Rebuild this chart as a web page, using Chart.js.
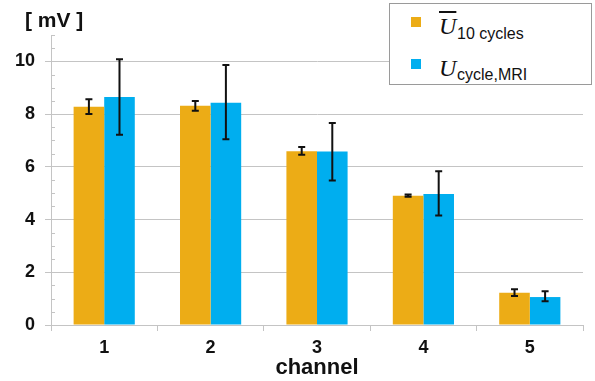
<!DOCTYPE html>
<html>
<head>
<meta charset="utf-8">
<script src="https://cdn.jsdelivr.net/npm/chart.js@4"></script>
<style>
  html, body { margin: 0; padding: 0; background: #fff; }
  #wrap { position: relative; width: 595px; height: 381px; }
  canvas { position: absolute; left: 0; top: 0; }
  .unit { position: absolute; left: 25px; top: 8px; font: bold 21px "Liberation Sans", Arial, sans-serif; color: #111; white-space: pre; }
  #legend { position: absolute; left: 389px; top: 3px; width: 201px; height: 80px; border: 1px solid #9a9a9a; background: #fff; }
  .sw { position: absolute; width: 10px; height: 10px; }
  .u { position: absolute; font: italic 24px "Liberation Serif", "Times New Roman", serif; color: #111; line-height: 1; }
  .sub { position: absolute; font: 16px "Liberation Sans", Arial, sans-serif; color: #111; line-height: 1; white-space: nowrap; }
</style>
</head>
<body>
<div id="wrap">
  <canvas id="c" width="595" height="381"></canvas>
  <div class="unit">[ mV ]</div>
  <div id="legend"></div>
</div>
<script>
const categories = ['1', '2', '3', '4', '5'];
const meanValues = [8.28, 8.32, 6.59, 4.90, 1.22];
const meanLow    = [8.00, 8.13, 6.46, 4.86, 1.10];
const meanHigh   = [8.56, 8.50, 6.75, 4.95, 1.36];
const mriValues  = [8.65, 8.43, 6.58, 4.97, 1.06];
const mriLow     = [7.22, 7.05, 5.48, 4.15, 0.90];
const mriHigh    = [10.08, 9.86, 7.66, 5.83, 1.28];
const seriesNames = ['U 10 cycles', 'U cycle,MRI'];
const yTickLabels = [0, 2, 4, 6, 8, 10];
const xTitle = 'channel';

const ORANGE = '#ECAC16';
const BLUE = '#00AEEF';
const GRID = '#c4c4c4';

// HTML legend (needs overline + subscripts)
const legend = document.getElementById('legend');
legend.innerHTML =
  '<div class="sw" style="left:21px;top:13px;background:' + ORANGE + '"></div>' +
  '<div class="u" style="left:49px;top:10px;text-decoration:overline;">U</div>' +
  '<div class="sub" style="left:67px;top:22px;">10 cycles</div>' +
  '<div class="sw" style="left:21px;top:55px;background:' + BLUE + '"></div>' +
  '<div class="u" style="left:49px;top:52px;">U</div>' +
  '<div class="sub" style="left:67px;top:63px;">cycle,MRI</div>';

const errorBars = {
  id: 'errorBars',
  afterDatasetsDraw(chart) {
    const ctx = chart.ctx;
    const ys = chart.scales.y;
    const ranges = [[meanLow, meanHigh], [mriLow, mriHigh]];
    ctx.save();
    ctx.strokeStyle = '#111';
    ctx.lineWidth = 2;
    chart.data.datasets.forEach((ds, di) => {
      const meta = chart.getDatasetMeta(di);
      meta.data.forEach((bar, i) => {
        const x = bar.x;
        const yl = ys.getPixelForValue(ranges[di][0][i]);
        const yh = ys.getPixelForValue(ranges[di][1][i]);
        ctx.beginPath();
        ctx.moveTo(x, yl); ctx.lineTo(x, yh);
        ctx.moveTo(x - 3.5, yl); ctx.lineTo(x + 3.5, yl);
        ctx.moveTo(x - 3.5, yh); ctx.lineTo(x + 3.5, yh);
        ctx.stroke();
      });
    });
    ctx.restore();
  }
};

const minorTicks = {
  id: 'minorTicks',
  afterDraw(chart) {
    const ctx = chart.ctx;
    const ys = chart.scales.y;
    const x0 = chart.chartArea.left;
    ctx.save();
    ctx.strokeStyle = GRID;
    ctx.lineWidth = 1;
    ys.ticks.forEach(t => {
      if (t.value % 2 !== 0) {
        const y = Math.round(ys.getPixelForValue(t.value)) + 0.5;
        ctx.beginPath();
        ctx.moveTo(x0, y); ctx.lineTo(x0 + 4, y);
        ctx.stroke();
      }
    });
    ctx.restore();
  }
};

new Chart(document.getElementById('c'), {
  type: 'bar',
  data: {
    labels: categories,
    datasets: [
      { label: seriesNames[0], data: meanValues, backgroundColor: ORANGE },
      { label: seriesNames[1], data: mriValues, backgroundColor: BLUE }
    ]
  },
  options: {
    responsive: false,
    animation: false,
    devicePixelRatio: 1,
    layout: { padding: { top: 35, right: 12, left: 0, bottom: 0 } },
    datasets: { bar: { categoryPercentage: 0.575, barPercentage: 1.0 } },
    plugins: {
      legend: { display: false },
      tooltip: { enabled: false }
    },
    scales: {
      x: {
        afterFit: s => { s.height = 56; },
        grid: { display: true, drawOnChartArea: false, offset: true, tickLength: 6, color: GRID },
        border: { display: true, color: GRID },
        ticks: { color: '#111', font: { family: '"Liberation Sans", Arial, sans-serif', size: 18, weight: 'bold' }, padding: 6 },
        title: { display: true, text: xTitle, color: '#111', font: { family: '"Liberation Sans", Arial, sans-serif', size: 22, weight: 'bold' }, padding: { top: -5, bottom: 0 } }
      },
      y: {
        min: 0, max: 11,
        afterFit: s => { s.width = 51; },
        afterBuildTicks: s => {
          const t = [];
          for (let v = 0; v <= 11; v += 0.5) t.push({ value: v });
          s.ticks = t;
        },
        grid: {
          tickLength: 6,
          color: c => (c.tick && yTickLabels.includes(c.tick.value)) ? GRID : 'rgba(0,0,0,0)',
          tickColor: c => (c.tick && yTickLabels.includes(c.tick.value)) ? GRID : 'rgba(0,0,0,0)'
        },
        border: { display: true, color: GRID },
        ticks: {
          autoSkip: false,
          padding: 10,
          color: '#111',
          font: { family: '"Liberation Sans", Arial, sans-serif', size: 18, weight: 'bold' },
          callback: v => yTickLabels.includes(v) ? String(v) : ''
        }
      }
    }
  },
  plugins: [errorBars, minorTicks]
});
</script>
</body>
</html>
